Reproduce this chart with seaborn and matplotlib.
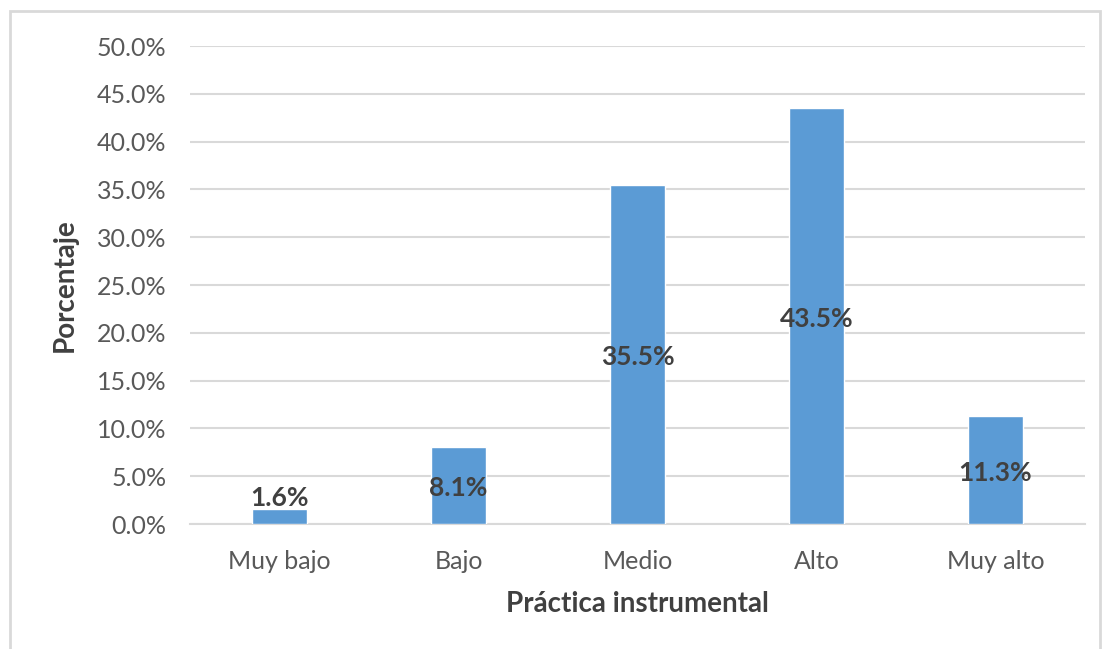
import matplotlib
matplotlib.use("Agg")
import matplotlib.pyplot as plt
import seaborn as sns
import pandas as pd
from matplotlib.patches import Rectangle
from matplotlib.ticker import FuncFormatter, MultipleLocator

# Distribution of instrumental practice levels (percent)
categories = ["Muy bajo", "Bajo", "Medio", "Alto", "Muy alto"]
percentages = [1.6, 8.1, 35.5, 43.5, 11.3]

df = pd.DataFrame({"nivel": categories, "porcentaje": percentages})

sns.set_theme(style="white")
plt.rcParams["font.family"] = ["Lato", "DejaVu Sans"]

fig = plt.figure(figsize=(11.06, 6.49), dpi=100)
ax = fig.add_axes([0.1718, 0.1926, 0.8092, 0.7365])

bar_color = "#5B9BD5"
grid_color = "#D9D9D9"
tick_color = "#595959"
label_color = "#404040"

sns.barplot(data=df, x="nivel", y="porcentaje", order=categories,
            color=bar_color, width=0.31, saturation=1, ax=ax, zorder=3)

ax.set_ylim(0, 50)
ax.set_xlim(-0.5, len(categories) - 0.5)
ax.yaxis.set_major_locator(MultipleLocator(5))
ax.yaxis.set_major_formatter(FuncFormatter(lambda v, _: f"{v:.1f}%"))
ax.grid(axis="y", color=grid_color, linewidth=1.5, zorder=0)
ax.set_axisbelow(True)

for side in ["left", "right", "top"]:
    ax.spines[side].set_visible(False)
ax.spines["bottom"].set_color(grid_color)
ax.spines["bottom"].set_linewidth(1.5)

ax.tick_params(axis="both", length=0, labelsize=18, colors=tick_color)
ax.tick_params(axis="y", pad=17)
ax.tick_params(axis="x", pad=19)

ax.set_xlabel("Práctica instrumental", fontsize=20, fontweight="bold",
              color=label_color, labelpad=13)
ax.set_ylabel("Porcentaje", fontsize=20, fontweight="bold",
              color=label_color, labelpad=14)

# Value labels centred in each bar (above the bar when it is too short)
for i, v in enumerate(percentages):
    y = v / 2 - 0.3 if v > 4 else v + 1.1
    ax.text(i, y, f"{v:.1f}%", ha="center", va="center", fontsize=19,
            fontweight="bold", color=label_color, zorder=4)

# Light frame around the chart area
fig.patches.append(Rectangle((10 / 1106, -0.01), 1090 / 1106, 1 - 11 / 649 + 0.01,
                             transform=fig.transFigure, fill=False,
                             edgecolor="#D9D9D9", linewidth=2))

fig.savefig("out.png", dpi=100, facecolor="white")
